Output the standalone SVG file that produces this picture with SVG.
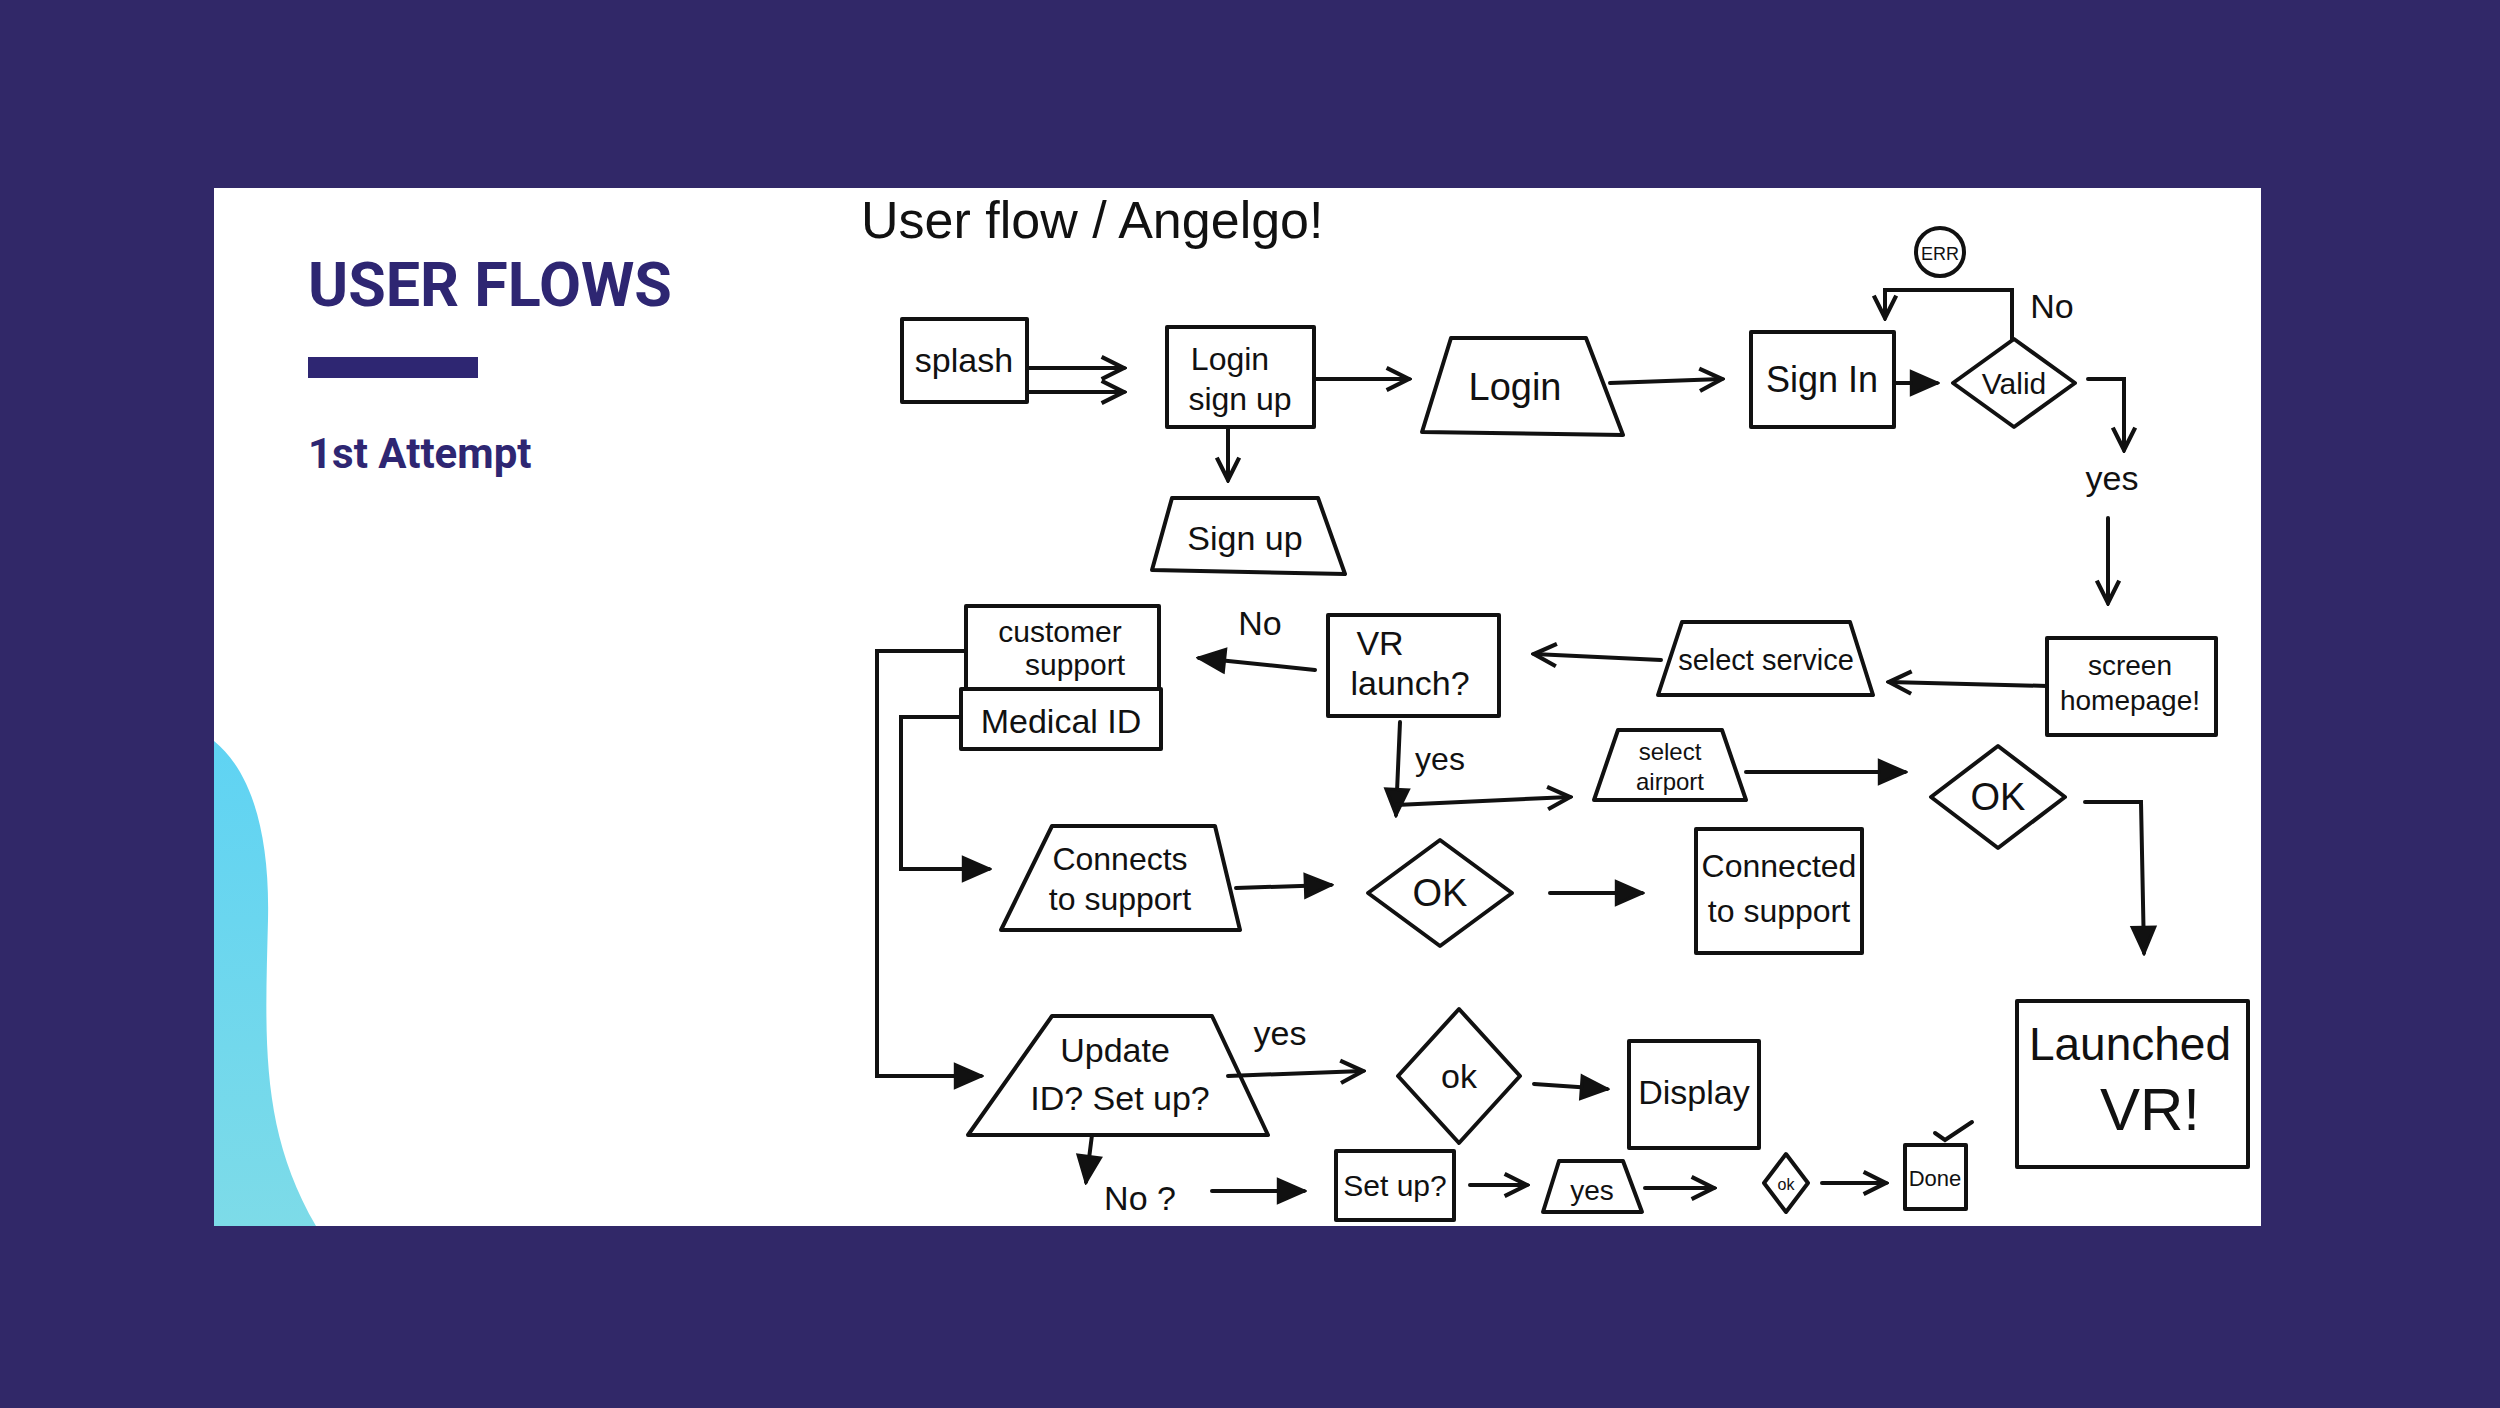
<svg xmlns="http://www.w3.org/2000/svg" width="2500" height="1408" viewBox="0 0 2500 1408">
<style>
.s{fill:none;stroke:#111;stroke-width:4;stroke-linejoin:round;stroke-linecap:round}
.t{font-family:"Liberation Sans",Arial,sans-serif;fill:#111;text-anchor:middle}
.c{fill:none;stroke:#111;stroke-width:4;stroke-linecap:round}
.o{marker-end:url(#open)}
.f{marker-end:url(#fill)}
</style>
<defs>
<marker id="open" viewBox="0 0 20 20" refX="18" refY="10" markerWidth="7" markerHeight="7" orient="auto" markerUnits="strokeWidth"><path d="M2,2 L18,10 L2,18" fill="none" stroke="#111" stroke-width="3"/></marker>
<marker id="fill" viewBox="0 0 20 20" refX="18" refY="10" markerWidth="8" markerHeight="8" orient="auto" markerUnits="strokeWidth"><path d="M2,3 L18,10 L2,17 Z" fill="#111" stroke="#111" stroke-width="2"/></marker>
<linearGradient id="blob" x1="0" y1="0" x2="0" y2="1"><stop offset="0" stop-color="#5fd3f3"/><stop offset="1" stop-color="#7ddbe8"/></linearGradient>
</defs>
<rect width="2500" height="1408" fill="#312868"/>
<rect x="214" y="188" width="2047" height="1038" fill="#ffffff"/>
<path d="M214,741 C250,770 270,830 268,920 C265,1040 260,1130 316,1226 L214,1226 Z" fill="url(#blob)"/>
<text x="308" y="306" font-family="Roboto,'Liberation Sans',sans-serif" font-weight="bold" font-size="61" fill="#2e2672">USER FLOWS</text>
<rect x="308" y="357" width="170" height="21" fill="#2e2672"/>
<text x="308" y="468" font-family="Roboto,'Liberation Sans',sans-serif" font-weight="bold" font-size="42" fill="#2e2672">1st Attempt</text>
<text x="861" y="238" font-family="'Liberation Sans',sans-serif" font-size="52" fill="#111">User flow / Angelgo!</text>

<g id="splash"><rect class="s" x="902" y="319" width="125" height="83"/><text class="t" x="964" y="372" font-size="34">splash</text></g>
<g id="loginsignup"><rect class="s" x="1167" y="327" width="147" height="100"/><text class="t" x="1230" y="370" font-size="32">Login</text><text class="t" x="1240" y="410" font-size="32">sign up</text></g>
<g id="signup"><path class="s" d="M1172,498 L1318,498 L1345,574 L1152,570 Z"/><text class="t" x="1245" y="550" font-size="34">Sign up</text></g>
<g id="login"><path class="s" d="M1451,338 L1586,338 L1623,435 L1422,432 Z"/><text class="t" x="1515" y="400" font-size="38">Login</text></g>
<g id="signin"><rect class="s" x="1751" y="332" width="143" height="95"/><text class="t" x="1822" y="392" font-size="36">Sign In</text></g>
<g id="valid"><path class="s" d="M2014,339 L2075,383 L2014,427 L1953,383 Z"/><text class="t" x="2014" y="394" font-size="30">Valid</text></g>
<g id="err"><circle class="s" cx="1940" cy="252" r="24"/><text class="t" x="1940" y="260" font-size="18">ERR</text></g>
<g id="homepage"><rect class="s" x="2047" y="638" width="169" height="97"/><text class="t" x="2130" y="675" font-size="28">screen</text><text class="t" x="2130" y="710" font-size="28">homepage!</text></g>
<g id="service"><path class="s" d="M1682,622 L1850,622 L1873,695 L1658,695 Z"/><text class="t" x="1766" y="670" font-size="29">select service</text></g>
<g id="vrlaunch"><rect class="s" x="1328" y="615" width="171" height="101"/><text class="t" x="1380" y="655" font-size="34">VR</text><text class="t" x="1410" y="695" font-size="34">launch?</text></g>
<g id="custsupport"><rect class="s" x="966" y="606" width="193" height="83"/><text class="t" x="1060" y="642" font-size="30">customer</text><text class="t" x="1075" y="675" font-size="30">support</text></g>
<g id="medicalid"><rect class="s" x="961" y="689" width="200" height="60"/><text class="t" x="1061" y="733" font-size="34">Medical ID</text></g>
<g id="airport"><path class="s" d="M1618,730 L1722,730 L1746,800 L1594,800 Z"/><text class="t" x="1670" y="760" font-size="24">select</text><text class="t" x="1670" y="790" font-size="24">airport</text></g>
<g id="ok2"><path class="s" d="M1998,746 L2065,797 L1998,848 L1931,797 Z"/><text class="t" x="1998" y="810" font-size="38">OK</text></g>
<g id="connects"><path class="s" d="M1052,826 L1215,826 L1240,930 L1001,930 Z"/><text class="t" x="1120" y="870" font-size="32">Connects</text><text class="t" x="1120" y="910" font-size="32">to support</text></g>
<g id="ok1"><path class="s" d="M1440,840 L1512,893 L1440,946 L1368,893 Z"/><text class="t" x="1440" y="906" font-size="38">OK</text></g>
<g id="connected"><rect class="s" x="1696" y="829" width="166" height="124"/><text class="t" x="1779" y="877" font-size="32">Connected</text><text class="t" x="1779" y="922" font-size="32">to support</text></g>
<g id="launched"><rect class="s" x="2017" y="1001" width="231" height="166"/><text class="t" x="2130" y="1060" font-size="46">Launched</text><text class="t" x="2150" y="1130" font-size="60">VR!</text></g>
<g id="update"><path class="s" d="M1052,1016 L1212,1016 L1268,1135 L968,1135 Z"/><text class="t" x="1115" y="1062" font-size="34">Update</text><text class="t" x="1120" y="1110" font-size="34">ID? Set up?</text></g>
<g id="ok3"><path class="s" d="M1459,1009 L1520,1076 L1459,1143 L1398,1076 Z"/><text class="t" x="1459" y="1088" font-size="34">ok</text></g>
<g id="display"><rect class="s" x="1629" y="1041" width="130" height="107"/><text class="t" x="1694" y="1104" font-size="34">Display</text></g>
<g id="setup"><rect class="s" x="1336" y="1151" width="118" height="69"/><text class="t" x="1395" y="1196" font-size="30">Set up?</text></g>
<g id="yesbox"><path class="s" d="M1559,1161 L1623,1161 L1642,1212 L1543,1212 Z"/><text class="t" x="1592" y="1200" font-size="28">yes</text></g>
<g id="ok4"><path class="s" d="M1786,1154 L1808,1183 L1786,1212 L1764,1183 Z"/><text class="t" x="1786" y="1190" font-size="16">ok</text></g>
<g id="done"><rect class="s" x="1905" y="1145" width="61" height="64"/><text class="t" x="1935" y="1186" font-size="22">Done</text><path class="c" d="M1935,1133 L1945,1140 L1972,1122"/></g>

<g id="connectors">
<path class="c o" d="M1027,368 L1124,368"/>
<path class="c o" d="M1027,392 L1124,392"/>
<path class="c o" d="M1228,427 L1228,480"/>
<path class="c o" d="M1314,379 L1409,379"/>
<path class="c o" d="M1610,383 L1722,379"/>
<path class="c f" d="M1894,383 L1937,383"/>
<path class="c o" d="M2012,340 L2012,290 L1885,290 L1885,318"/>
<text class="t" x="2052" y="318" font-size="34">No</text>
<path class="c o" d="M2088,379 L2124,379 L2124,450"/>
<text class="t" x="2112" y="490" font-size="34">yes</text>
<path class="c o" d="M2108,518 L2108,603"/>
<path class="c o" d="M2047,686 L1889,682"/>
<path class="c o" d="M1661,660 L1534,654"/>
<path class="c f" d="M1315,670 L1199,658"/>
<text class="t" x="1260" y="635" font-size="34">No</text>
<path class="c f" d="M1400,722 L1396,815"/>
<text class="t" x="1440" y="770" font-size="32">yes</text>
<path class="c o" d="M1396,805 L1570,797"/>
<path class="c f" d="M1746,772 L1905,772"/>
<path class="c f" d="M2085,802 L2141,802 L2144,953"/>
<path class="c f" d="M966,651 L877,651 L877,1076 L981,1076"/>
<path class="c f" d="M961,717 L901,717 L901,869 L989,869"/>
<path class="c f" d="M1236,888 L1331,885"/>
<path class="c f" d="M1550,893 L1642,893"/>
<path class="c o" d="M1228,1076 L1363,1071"/>
<text class="t" x="1280" y="1045" font-size="34">yes</text>
<path class="c f" d="M1534,1084 L1607,1089"/>
<path class="c f" d="M1092,1135 L1086,1182"/>
<text class="t" x="1140" y="1210" font-size="34">No ?</text>
<path class="c f" d="M1212,1191 L1304,1191"/>
<path class="c o" d="M1470,1185 L1527,1185"/>
<path class="c o" d="M1645,1188 L1714,1188"/>
<path class="c o" d="M1822,1183 L1886,1183"/>
</g>
</svg>
